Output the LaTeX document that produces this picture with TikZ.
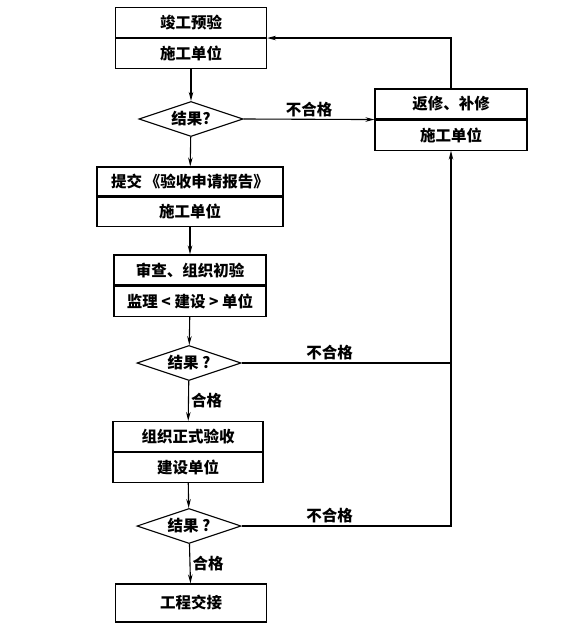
\documentclass[tikz,border=0pt]{standalone}
\usepackage{fontspec}
\setmainfont{Noto Sans CJK SC}
\usetikzlibrary{shapes,arrows.meta,positioning}

\tikzset{
  box/.style={draw, line width=1.1pt, inner sep=0pt, minimum width=151pt, minimum height=30pt},
  test/.style={draw, diamond, line width=1.1pt, inner sep=0pt, aspect=3, minimum width=104pt, minimum height=35pt},
  lbl/.style={inner sep=2pt}
}

\begin{document}
\begin{tikzpicture}[x=1pt, y=-1pt, >={Stealth[length=9pt,width=4.5pt]}, line width=1.1pt,
  font=\bfseries\fontsize{15.5}{17}\selectfont]

  \newcommand\X{190}

  \useasboundingbox (0,0) rectangle (584,631);

  % main column
  \node[box] (pre) at (\X+1, 22.5) {竣工预验};
  \node[box, below=0pt of pre] (preby) {施工单位};
  \node[test] (chk1) at (\X+1, 119) {结果?};
  \node[box, minimum width=186pt, minimum height=29pt] (apply) at (\X, 181.5) {提交\,《验收申请报告》};
  \node[box, minimum width=186pt, minimum height=29pt, below=0pt of apply] (applyby) {施工单位};
  \node[box, minimum width=152pt] (rev) at (\X, 270) {审查、组织初验};
  \node[box, minimum width=152pt, below=0pt of rev] (revby) {监理 < 建设 > 单位};
  \node[test] (chk2) at (\X-1, 363) {结果 ?};
  \node[box, minimum width=150pt] (acc) at (\X-2, 436.5) {组织正式验收};
  \node[box, minimum width=150pt, below=0pt of acc] (accby) {建设单位};
  \node[test] (chk3) at (\X-1, 526) {结果 ?};
  \node[box, minimum height=38pt] (hand) at (\X+1, 603) {工程交接};

  % repair box
  \node[box, minimum width=152pt] (fix) at (451, 104) {返修、补修};
  \node[box, minimum width=152pt, below=0pt of fix] (fixby) {施工单位};

  \draw[->] (preby) -- (chk1);
  \draw[->] (chk1) -- (apply);
  \draw[->] (applyby) -- (rev);
  \draw[->] (revby) -- (chk2);
  \draw[->] (chk2) -- node[lbl, right]{合格} (acc);
  \draw[->] (accby) -- (chk3);
  \draw[->] (chk3) -- node[lbl, right]{合格} (hand);

  \draw[->] (chk1.east) -- node[lbl, above]{不合格} (fix.south west); % chk1->fix
  \draw[->] (fix.north) |- (pre.south east); % fix->pre
  \draw (chk2.east) -- node[lbl, above, pos=0.42]{不合格} (chk2.east -| fixby.south); % chk2->line
  \draw[->] (chk3.east) -- node[lbl, above, pos=0.42]{不合格} (chk3.east -| fixby.south) -- (fixby.south); % chk3->fix
\end{tikzpicture}
\end{document}
